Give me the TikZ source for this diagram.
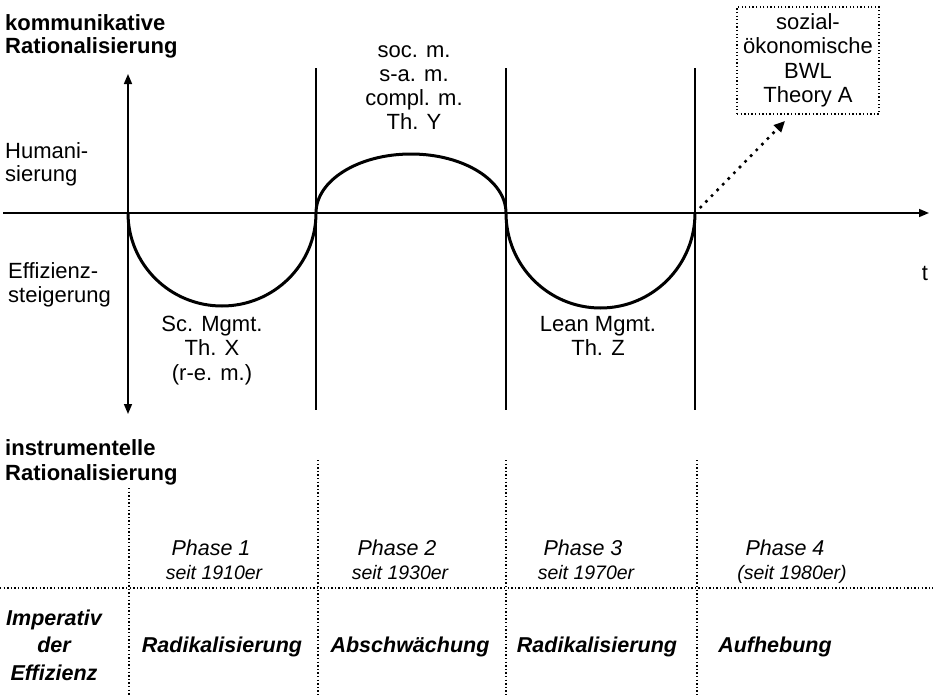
\documentclass[tikz,border=0pt]{standalone}
\usepackage{fontspec}
\setmainfont{Liberation Sans}
\usetikzlibrary{arrows.meta}
\begin{document}
\begin{tikzpicture}[x=1pt,y=-1pt,
  txt/.style={inner sep=0pt, anchor=base, align=center, font=\fontsize{22}{24}\selectfont},
  lefttxt/.style={inner sep=0pt, anchor=base west, align=left, font=\fontsize{22}{23}\selectfont},
  boldtxt/.style={lefttxt, font=\fontsize{22}{23}\selectfont\bfseries},
  phase/.style={txt, font=\fontsize{21.5}{24}\selectfont\itshape},
  since/.style={txt, font=\fontsize{19.5}{24}\selectfont\itshape},
  imp/.style={txt, font=\fontsize{21.5}{27.5}\selectfont\bfseries\itshape},
  axisline/.style={line width=1.5pt},
  border/.style={line width=1.5pt},
  curve/.style={line width=3pt},
  dotline/.style={line width=1.3pt, dash pattern=on 1.3pt off 2.3pt},
  dotarrow/.style={line width=2.6pt, dash pattern=on 2.6pt off 5.4pt,
    -{Triangle[length=11pt,width=10pt]}},
]
\useasboundingbox (0,0) rectangle (933,696);

% time axis and the vertical scale (multi-line nodes sit on their last baseline)
\coordinate (xstart) at (3,213);
\coordinate (xend) at (929,213);
\draw[axisline,-{Triangle[length=10pt,width=8pt]}] (xstart) -- (xend);
\node (t) [txt] at (925,280) {t};

\coordinate (vtop) at (128,74);
\coordinate (vbot) at (128,414);
\draw[axisline,{Triangle[length=10pt,width=8pt]}-{Triangle[length=10pt,width=8pt]}] (vbot) -- (vtop);

% phase borders
\coordinate (b1t) at (316,68);  \coordinate (b1b) at (316,410);
\coordinate (b2t) at (506,68);  \coordinate (b2b) at (506,410);
\coordinate (b3t) at (695,68);  \coordinate (b3b) at (695,410);
\draw[border] (b1t) -- (b1b);
\draw[border] (b2t) -- (b2b);
\draw[border] (b3t) -- (b3b);

% the wave
\draw[curve] (128,213) .. controls (128,264.4) and (170.1,306) .. (222,306)
                       .. controls (273.9,306) and (316,264.4) .. (316,213);
\draw[curve] (316,213) .. controls (316,180.4) and (358.5,154) .. (411,154)
                       .. controls (463.5,154) and (506,180.4) .. (506,213);
\draw[curve] (506,213) .. controls (506,265.5) and (548.3,308) .. (600.5,308)
                       .. controls (652.7,308) and (695,265.5) .. (695,213);

% axis labels
\node (komm) [boldtxt] at (5,53) {kommunikative\\Rationalisierung};
\node (human) [lefttxt] at (5,181) {Humani-\\sierung};
\node (effiz) [lefttxt, font=\fontsize{22}{24}\selectfont] at (8,302) {Effizienz-\\steigerung};
\node (instr) [boldtxt, font=\fontsize{22}{25}\selectfont\bfseries] at (5,480) {instrumentelle\\Rationalisierung};

% labels of the waves
\node (thy) [txt] at (414,129) {soc. m.\\s-a. m.\\compl. m.\\Th. Y};
\node (thx) [txt, font=\fontsize{22}{24.5}\selectfont] at (212,380) {Sc. Mgmt.\\Th. X\\(r-e. m.)};
\node (thz) [txt, font=\fontsize{22}{24.5}\selectfont] at (598,355.5) {Lean Mgmt.\\Th. Z};

% outlook box
\node (thA) [draw, dotline, inner sep=0pt, minimum width=142pt, minimum height=107pt,
  align=center, font=\fontsize{22}{24.5}\selectfont] at (808,60.5)
  {sozial-\\ökonomische\\BWL\\Theory A};
\coordinate (z3) at (695,213);
\coordinate (atip) at (785,121);
\draw[dotarrow, shorten <=7pt] (z3) -- (atip);

% grid of the phase table
\coordinate (g0t) at (129,488); \coordinate (g0b) at (129,696);
\coordinate (g1t) at (318,460); \coordinate (g1b) at (318,696);
\coordinate (g2t) at (506,460); \coordinate (g2b) at (506,696);
\coordinate (g3t) at (697,460); \coordinate (g3b) at (697,696);
\coordinate (hl) at (0,588);    \coordinate (hr) at (933,588);
\draw[dotline] (g0t) -- (g0b);
\draw[dotline] (g1t) -- (g1b);
\draw[dotline] (g2t) -- (g2b);
\draw[dotline] (g3t) -- (g3b);
\draw[dotline] (hl) -- (hr);

% phases
\node (ph1) [phase] at (211,555) {Phase 1};
\node (ph2) [phase] at (397,555) {Phase 2};
\node (ph3) [phase] at (583,555) {Phase 3};
\node (ph4) [phase] at (785,555) {Phase 4};
\node (s1) [since] at (214,579) {seit 1910er};
\node (s2) [since] at (400,579) {seit 1930er};
\node (s3) [since] at (586,579) {seit 1970er};
\node (s4) [since] at (792,579) {(seit 1980er)};

% imperative of efficiency
\node (imp) [imp] at (54,680) {Imperativ\\der\\Effizienz};
\node (r1) [imp] at (222,652) {Radikalisierung};
\node (r2) [imp] at (410,652) {Abschwächung};
\node (r3) [imp] at (597,652) {Radikalisierung};
\node (r4) [imp] at (775,652) {Aufhebung};
\end{tikzpicture}
\end{document}
